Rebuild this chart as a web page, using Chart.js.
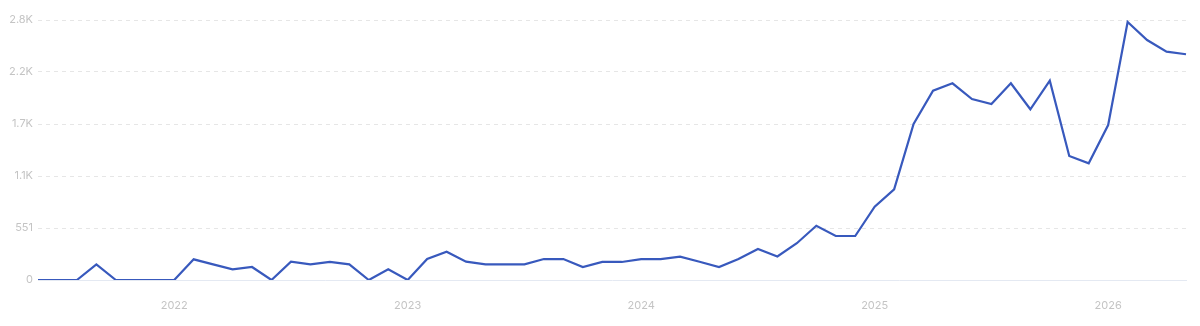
<!DOCTYPE html>
<html>
<head>
<meta charset="utf-8">
<script src="https://cdn.jsdelivr.net/npm/chart.js@4/dist/chart.umd.min.js"></script>
<style>
html,body{margin:0;padding:0;background:#fff;}
#wrap{width:1200px;height:326px;position:relative;}
</style>
</head>
<body>
<div id="wrap"><canvas id="c" width="1200" height="326"></canvas></div>
<script>
const months = [];
const startYear = 2021, startMonth = 5; // Jun 2021 (0-based)
for (let i = 0; i < 60; i++) {
  const m = (startMonth + i) % 12;
  const y = startYear + Math.floor((startMonth + i) / 12);
  months.push(m === 0 ? String(y) : '');
}
const values = [
  0, 0, 0, 166, 0, 0, 0,
  0, 219, 165, 113, 138, 0, 194, 166, 191, 166, 0, 113,
  0, 222, 300, 194, 166, 166, 166, 222, 222, 138, 191, 191,
  222, 222, 247, 194, 138, 222, 328, 250, 390, 575, 466, 466,
  777, 961, 1653, 2006, 2084, 1918, 1865, 2084, 1809, 2112, 1314, 1237,
  1642, 2734, 2543, 2419, 2392
];
const yTickValues = [0, 551, 1102, 1653, 2204, 2755];
const yTickLabels = ['0', '551', '1.1K', '1.7K', '2.2K', '2.8K'];

new Chart(document.getElementById('c'), {
  type: 'line',
  data: {
    labels: months,
    datasets: [{
      data: values,
      borderColor: '#3859bd',
      borderWidth: 2.2,
      pointRadius: 0,
      tension: 0,
      fill: false
    }]
  },
  options: {
    responsive: false,
    animation: false,
    events: [],
    layout: { padding: { top: 20, right: 14, left: 0, bottom: 0 } },
    plugins: { legend: { display: false }, tooltip: { enabled: false } },
    scales: {
      x: {
        offset: false,
        grid: { display: false, drawTicks: false },
        border: { display: true, color: '#e4e9f2', width: 1 },
        ticks: {
          autoSkip: false, maxRotation: 0, color: '#c4c4c4', padding: 19,
          font: { family: 'Inter', size: 11 },
          callback: function(v, i) { return months[i]; }
        },
        afterFit: function(s) { s.height = 46; s.paddingRight = 0; s.paddingLeft = 0; }
      },
      y: {
        min: 0, max: 2755,
        afterBuildTicks: function(s) { s.ticks = yTickValues.map(v => ({ value: v })); },
        grid: {
          drawTicks: false,
          color: function(ctx) { return ctx.tick && ctx.tick.value === 0 ? 'rgba(0,0,0,0)' : '#e6e6e6'; },
          lineWidth: 1
        },
        border: { display: false, dash: [4, 4] },
        ticks: {
          color: '#c4c4c4', padding: 5,
          font: { family: 'Inter', size: 11 },
          callback: function(v) { const i = yTickValues.indexOf(v); return i >= 0 ? yTickLabels[i] : ''; }
        },
        afterFit: function(s) { s.width = 38; s.paddingTop = 0; s.paddingBottom = 0; }
      }
    }
  }
});
</script>
</body>
</html>
